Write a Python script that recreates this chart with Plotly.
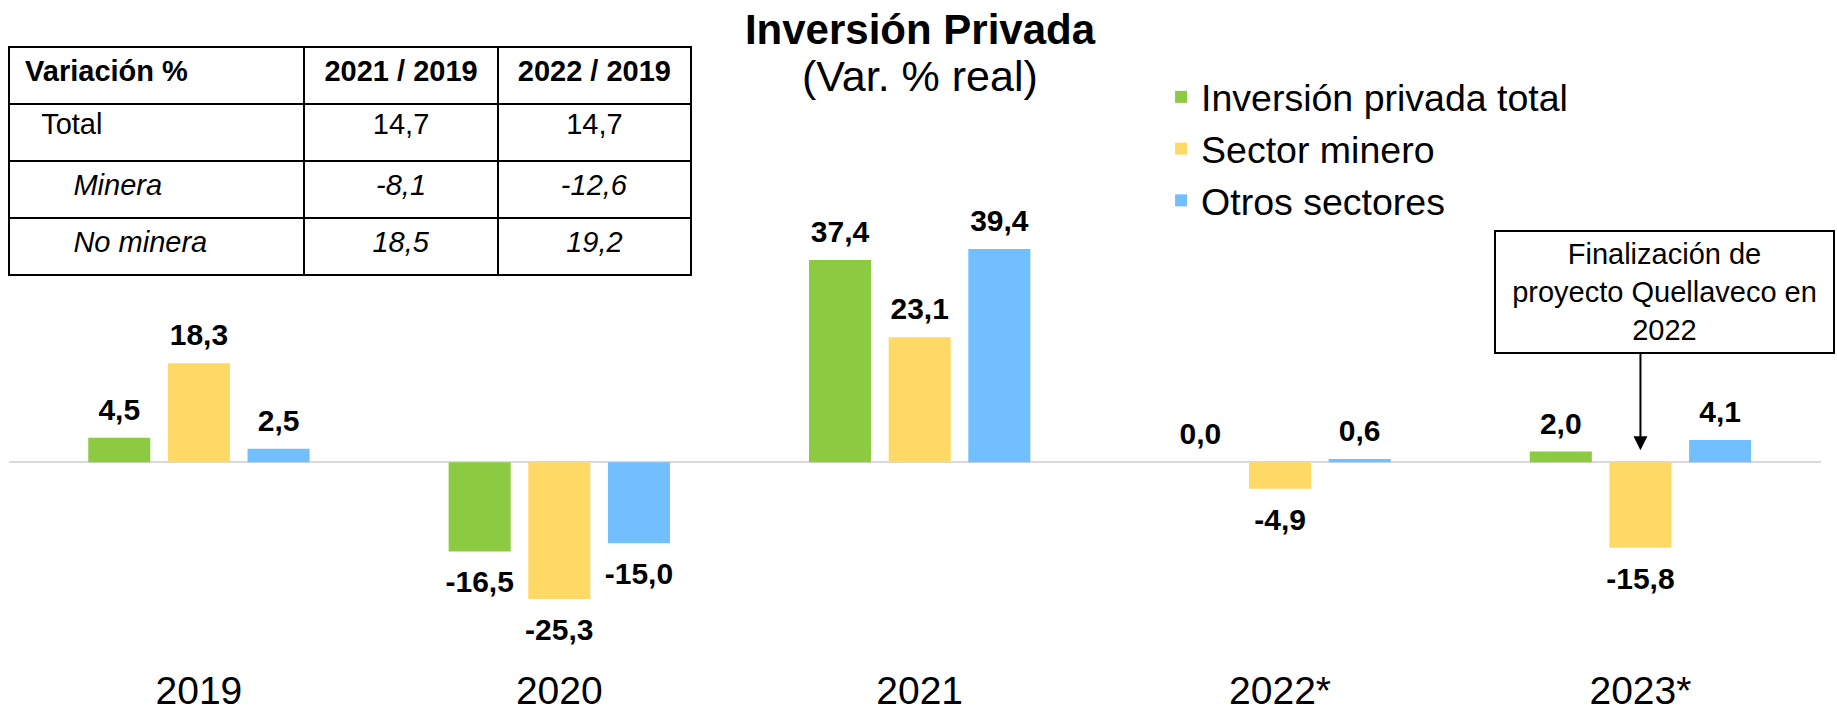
import plotly.graph_objects as go

# ---------------- data ----------------
categories = ["2019", "2020", "2021", "2022*", "2023*"]
series_names = ["Inversión privada total", "Sector minero", "Otros sectores"]
total = [4.5, -16.5, 37.4, 0.0, 2.0]
minero = [18.3, -25.3, 23.1, -4.9, -15.8]
otros = [2.5, -15.0, 39.4, 0.6, 4.1]
colors = ["#8CCB41", "#FFD966", "#72BFFF"]

table_header = ["Variación %", "2021 / 2019", "2022 / 2019"]
table_rows = ["Total", "Minera", "No minera"]
table_2021 = [14.7, -8.1, 18.5]
table_2022 = [14.7, -12.6, 19.2]

title_text = "Inversión Privada"
subtitle_text = "(Var. % real)"
note_text = "Finalización de<br>proyecto Quellaveco en<br>2022"
note_category = "2023*"

FONT = "Arial, Liberation Sans, sans-serif"
NB = "\u00a0"

fig = go.Figure()

series = [total, minero, otros]
for k, (name, vals, color) in enumerate(zip(series_names, series, colors)):
    fig.add_trace(go.Bar(
        x=categories, y=vals, name=name, marker_color=color,
        marker_line_width=0, offsetgroup=f"g{k}", alignmentgroup="a",
        hoverinfo="x+y",
    ))

# value labels, grouped the same way as the bars
for k, vals in enumerate(series):
    fig.add_trace(go.Scatter(
        x=categories, y=vals, mode="markers+text", showlegend=False,
        offsetgroup=f"g{k}", alignmentgroup="a", hoverinfo="skip",
        marker=dict(color="rgba(0,0,0,0)", opacity=0, line=dict(width=0),
                    size=[15 if v >= 0 else 28 for v in vals]),
        texttemplate="<b>%{y:.1f}</b>",
        textposition=["top center" if v >= 0 else "bottom center" for v in vals],
        textfont=dict(family=FONT, size=30, color="black"),
        cliponaxis=False,
    ))


def fmt(v):
    return f"{v:.1f}".replace(".", ",")


indent = [NB * 3, NB * 7, NB * 7]
italic = [False, True, True]
col1, col2, col3 = [], [], []
for lab, a, b, ind, it in zip(table_rows, table_2021, table_2022, indent, italic):
    if it:
        col1.append(f"{ind}<i>{lab}</i>")
        col2.append(f"<i>{fmt(a)}</i>")
        col3.append(f"<i>{fmt(b)}</i>")
    else:
        col1.append(f"{ind}{lab}")
        col2.append(fmt(a))
        col3.append(fmt(b))

hdr = [NB * 1 + f"<b>{table_header[0]}</b>"] + [f"<b>{h}</b>" for h in table_header[1:]]

fig.add_trace(go.Table(
    domain=dict(x=[0, 0.3764], y=[0.5535, 0.9434]),
    columnwidth=[295, 193, 193],
    header=dict(values=hdr, height=57, align=["left", "center", "center"],
                line=dict(color="black", width=2), fill_color="white",
                font=dict(family=FONT, size=29, color="black")),
    cells=dict(values=[col1, col2, col3], height=57,
               align=["left", "center", "center"],
               line=dict(color="black", width=2), fill_color="white",
               font=dict(family=FONT, size=29, color="black")),
))

fig.update_layout(
    width=1837, height=713,
    margin=dict(l=9, r=16, t=10, b=49, autoexpand=False),
    paper_bgcolor="white", plot_bgcolor="white",
    separators=",.",
    barmode="group", bargap=0.337, bargroupgap=0.221,
    scattermode="group", scattergap=0.337,
    font=dict(family=FONT, color="black"),
    title=dict(text=f"<b>{title_text}</b>", x=0.5008, xref="container",
               y=0.9593, yref="container", xanchor="center", yanchor="middle",
               font=dict(family=FONT, size=42, color="black")),
    legend=dict(x=0.6358, y=0.9144, xanchor="left", yanchor="top",
                font=dict(family=FONT, size=37.5, color="black"),
                bgcolor="rgba(0,0,0,0)", traceorder="normal"),
    xaxis=dict(type="category", range=[-0.527, 4.501], showgrid=False,
               showline=False, ticks="", zeroline=False, automargin=False,
               tickfont=dict(family=FONT, size=39, color="black")),
    yaxis=dict(range=[-37.30, 83.59], showgrid=False, showticklabels=False,
               showline=False, ticks="", zeroline=True, automargin=False,
               zerolinecolor="#D9D9D9", zerolinewidth=2),
)

fig.add_annotation(text=subtitle_text, x=0.5028, y=0.8991, xref="paper", yref="paper",
                   xanchor="center", yanchor="middle", showarrow=False,
                   font=dict(family=FONT, size=43, color="black"))

fig.add_annotation(text=note_text, x=0.9139, y=0.5688, xref="paper", yref="paper",
                   xanchor="center", yanchor="middle", showarrow=False,
                   width=335, height=118, align="center",
                   bgcolor="white", bordercolor="black", borderwidth=2, borderpad=1,
                   font=dict(family=FONT, size=29, color="black"))

fig.add_annotation(text="", x=note_category, y=2.2, xref="x", yref="y",
                   showarrow=True, ax=0, ay=-98, axref="pixel", ayref="pixel",
                   arrowhead=2, arrowsize=1.4, arrowwidth=2, arrowcolor="black",
                   standoff=0, startstandoff=0)

fig.write_html(
    "out.html",
    config={"displayModeBar": False},
    post_script="document.body.style.margin='0';document.body.style.overflow='hidden';",
)
